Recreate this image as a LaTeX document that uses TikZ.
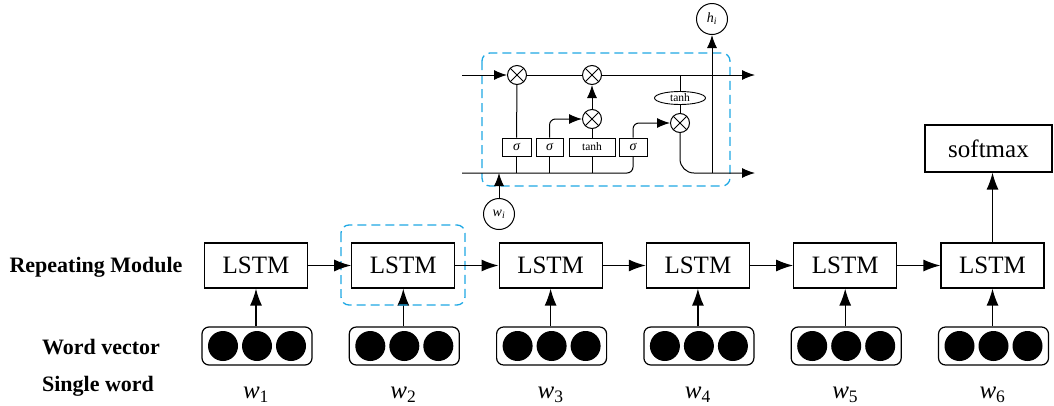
\documentclass[tikz,border=0pt]{standalone}
\usepackage{fontspec}
\setmainfont{Liberation Serif}
\usetikzlibrary{positioning,arrows.meta,shapes.geometric}
\definecolor{cellblue}{RGB}{30,168,228}

\begin{document}
\begin{tikzpicture}[
x=1pt, y=-1pt,
>={Latex[length=17pt,width=12pt]},
lstmnode/.style={rectangle, draw=black, line width=1.2pt, minimum width=103pt, minimum height=45pt, font=\fontsize{25}{30}\selectfont},
vecnode/.style={rectangle, rounded corners=7pt, draw=black, line width=1.2pt, minimum width=110pt, minimum height=38pt},
labelnode/.style={font=\fontsize{22}{26}\selectfont\bfseries},
wordnode/.style={font=\fontsize{25}{30}\selectfont},
gatenode/.style={rectangle, draw=black, line width=0.9pt, minimum height=18pt, inner sep=0pt, font=\fontsize{14}{16}\selectfont\itshape},
multnode/.style={circle, draw=black, line width=1pt, minimum size=19pt, inner sep=0pt,
  path picture={\draw[line width=1pt] (path picture bounding box.north west) -- (path picture bounding box.south east)
                 (path picture bounding box.north east) -- (path picture bounding box.south west);}},
roundnode/.style={circle, draw=black, line width=1pt, minimum size=31pt, inner sep=0pt, font=\fontsize{14}{16}\selectfont},
dashbox/.style={draw=cellblue, line width=1.3pt, dash pattern=on 9pt off 5pt, rounded corners=8pt},
mainarrow/.style={line width=1.3pt, ->},
cellline/.style={line width=1pt},
cellarrow/.style={line width=1pt, -{Latex[length=13pt,width=10pt]}},
]
\useasboundingbox (0,0) rectangle (1054,405);
%Nodes
\node[labelnode] (rowmod)  at (96,267)  {Repeating Module};
\node[labelnode] (rowvec)  at (101,347) {Word vector};
\node[labelnode] (rowword) at (98,386)  {Single word};
\foreach \i in {1,...,6}{
  \node[lstmnode] (lstm\i) at ({256+147.3*(\i-1)},265.5) {LSTM};
  \node[vecnode]  (vec\i)  at ({257+147.3*(\i-1)},346) {};
  \node[wordnode] (word\i) at ({256+147.3*(\i-1)},395) {\textit{w}\textsubscript{\i}};
  \foreach \dx in {-34,0,34}
    \fill ([xshift=\dx pt]vec\i.center) circle (15pt);
  \draw[mainarrow] (vec\i.north -| lstm\i) -- (lstm\i);
}
\node[lstmnode, minimum width=127pt, minimum height=47pt] (soft) at (988.5,148.5) {softmax};
\draw[dashbox] (341,225) rectangle (465,305);
%Lines
\foreach \i/\j in {1/2,2/3,3/4,4/5,5/6}
  \draw[mainarrow] (lstm\i) -- (lstm\j);
\draw[mainarrow] (lstm6.north) -- (lstm6.north |- soft.south);

%Cell
\draw[dashbox] (482,53) rectangle (730,186);
\coordinate (cellin)  at (462,75);
\coordinate (cellout) at (755,75);
\coordinate (hidin)   at (462,173);
\coordinate (hidout)  at (755,173);
\node[multnode] (forget) at (517,75)  {};
\node[multnode] (update) at (592,75)  {};
\node[multnode] (inmul)  at (592,119) {};
\node[multnode] (outmul) at (680,123) {};
\node[gatenode, minimum width=29pt] (sig1)  at (516.5,147) {σ};
\node[gatenode, minimum width=27pt] (sig2)  at (549.5,147) {σ};
\node[gatenode, minimum width=46pt, font=\fontsize{11.5}{13}\selectfont] (tanh1) at (592,147) {tanh};
\node[gatenode, minimum width=28pt] (sig3)  at (633,147) {σ};
\node[ellipse, draw=black, line width=0.9pt, minimum width=51pt, minimum height=13pt, inner sep=0pt,
      font=\fontsize{11.5}{13}\selectfont] (tanh2) at (680,98) {tanh};
\node[roundnode] (hnode) at (712,19)  {\textit{h}\textsubscript{\textit{i}}};
\node[roundnode] (wnode) at (499,214) {\textit{w}\textsubscript{\textit{i}}};

\draw[cellarrow] (cellin) -- (forget);
\draw[cellline]  (forget) -- (update);
\draw[cellarrow] (update) -- (cellout);
\draw[cellline, rounded corners=6pt] (hidin) -| (sig3.south);
\draw[cellline]  (sig1.south) -- (sig1.south |- hidin);
\draw[cellline]  (sig2.south) -- (sig2.south |- hidin);
\draw[cellline]  (tanh1.south) -- (tanh1.south |- hidin);
\draw[cellline]  (sig1) -- (forget);
\draw[cellarrow, rounded corners=6pt] (sig2.north) |- (inmul);
\draw[cellline]  (tanh1) -- (inmul);
\draw[cellarrow] (inmul) -- (update);
\draw[cellarrow, rounded corners=6pt] (sig3.north) |- (outmul);
\draw[cellline]  (tanh2.north |- cellin) -- (tanh2);
\draw[cellline]  (tanh2) -- (outmul);
\draw[cellarrow, rounded corners=14pt] (outmul.south) |- (hidout);
\draw[cellarrow] (hnode |- hidin) -- (hnode);
\draw[cellarrow] (wnode) -- (wnode |- hidin);
\end{tikzpicture}
\end{document}
